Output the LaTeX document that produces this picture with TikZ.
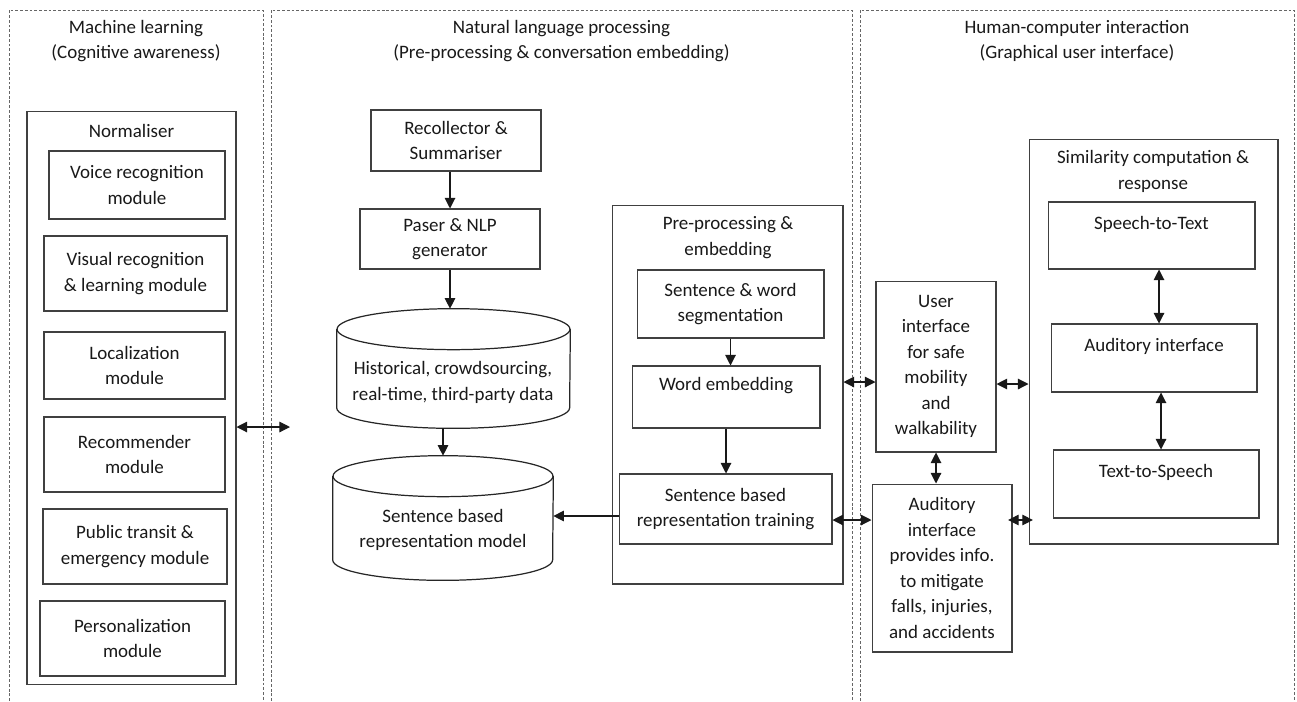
\documentclass[tikz,border=0pt]{standalone}
\usepackage{fontspec}
\setmainfont{Carlito}
\usetikzlibrary{arrows.meta}

\begin{document}
\begin{tikzpicture}[
x=0.02cm, y=-0.02cm,
>={Triangle[length=6pt,width=6pt]},
font=\fontsize{10.8}{14.5}\selectfont,
panel/.style={draw=black!60, line width=0.5pt, dash pattern=on 1.6pt off 1.1pt},
plainbox/.style={rectangle, draw=black!75, line width=0.6pt, align=center, inner sep=1pt, text=black!90},
dbnode/.style={rectangle, inner sep=0pt, minimum height=2.4cm},
dbline/.style={draw=black!85, line width=0.7pt},
titletext/.style={align=center, inner sep=1pt, text=black!90},
link/.style={draw=black!90, line width=0.6pt},
shortlink/.style={draw=black!90, line width=0.6pt, <->, shorten <=-2.5pt, shorten >=-2.5pt},
]
\useasboundingbox (0,0) rectangle (1297,701);

%Frames
\draw[panel] (9,701) -- (9,10) -- (263,10) -- (263,701);
\draw[panel] (271,701) -- (271,10) -- (852,10) -- (852,701);
\draw[panel] (860,701) -- (860,10) -- (1294,10) -- (1294,701);

%Titles
\node[titletext] (mltitle)  at (136,41)   {Machine learning\\(Cognitive awareness)};
\node[titletext] (nlptitle) at (561.5,41) {Natural language processing\\(Pre-processing \& conversation embedding)};
\node[titletext] (hcititle) at (1077,41)  {Human-computer interaction\\(Graphical user interface)};

%Nodes machine learning
\node[plainbox, minimum width=4.18cm, minimum height=11.48cm] (norm) at (131.5,398) {};
\node[titletext] (normtitle) at (131.5,131) {Normaliser};
\node[plainbox, minimum width=3.52cm, minimum height=1.36cm] (voice)   at (137,185)   {Voice recognition\\module};
\node[plainbox, minimum width=3.66cm, minimum height=1.50cm] (visual)  at (135.5,273.5) {Visual recognition\\\& learning module};
\node[plainbox, minimum width=3.62cm, minimum height=1.34cm] (local)   at (134.5,365.5) {Localization\\module};
\node[plainbox, minimum width=3.62cm, minimum height=1.50cm] (recom)   at (134.5,454.5) {Recommender\\module};
\node[plainbox, minimum width=3.68cm, minimum height=1.50cm] (transit) at (135,546.5) {Public transit \&\\emergency module};
\node[plainbox, minimum width=3.70cm, minimum height=1.50cm] (person)  at (132.5,638.5) {Personalization\\module};
\coordinate (mlport) at (290,427);

%Nodes language processing
\node[plainbox, minimum width=3.40cm, minimum height=1.22cm] (recol) at (456,140.5) {Recollector \&\\Summariser};
\node[plainbox, minimum width=3.60cm, minimum height=1.20cm] (paser) at (450,239) {Paser \& NLP\\generator};
\node[dbnode, minimum width=4.66cm, minimum height=2.38cm] (hist)  at (453.5,368.5) {};
\node[titletext] (histtext) at (453,382.5) {Historical, crowdsourcing,\\real-time, third-party data};
\node[dbnode, minimum width=4.40cm, minimum height=2.48cm] (model) at (443,518) {};
\node[titletext] (modeltext) at (443,530) {Sentence based\\representation model};
\node[plainbox, minimum width=4.62cm, minimum height=7.58cm] (prep) at (727.5,394.5) {};
\node[titletext] (preptitle) at (728,237.5) {Pre-processing \&\\embedding};
\node[plainbox, minimum width=3.74cm, minimum height=1.36cm] (seg)   at (730.5,304) {Sentence \& word\\segmentation};
\node[plainbox, minimum width=3.76cm, minimum height=1.24cm] (wemb)  at (726,397) {Word embedding\\~};
\node[plainbox, minimum width=4.26cm, minimum height=1.40cm] (train) at (725.5,509) {Sentence based\\representation training};

%Nodes interaction
\node[plainbox, minimum width=2.40cm, minimum height=3.42cm] (ui)  at (936,366.5) {User\\interface\\for safe\\mobility\\and\\walkability};
\node[plainbox, minimum width=2.80cm, minimum height=3.36cm] (aud) at (942,568) {Auditory\\interface\\provides info.\\to mitigate\\falls, injuries,\\and accidents};
\node[plainbox, minimum width=4.98cm, minimum height=8.10cm] (sim) at (1153.5,341.5) {};
\node[titletext] (simtitle) at (1153,171.5) {Similarity computation \&\\response};
\node[plainbox, minimum width=4.14cm, minimum height=1.34cm] (stt)  at (1151.5,235.5) {Speech-to-Text\\~};
\node[plainbox, minimum width=4.12cm, minimum height=1.36cm] (audi) at (1154,358) {Auditory interface\\~};
\node[plainbox, minimum width=4.12cm, minimum height=1.36cm] (tts)  at (1156,484) {Text-to-Speech\\~};

%Cylinders
\draw[dbline] ([yshift=-0.41cm]hist.north west) -- ([yshift=0.41cm]hist.south west)
  arc[start angle=180, end angle=360, x radius=2.33cm, y radius=0.41cm]
  -- ([yshift=-0.41cm]hist.north east);
\draw[dbline] ([yshift=-0.41cm]hist.north) ellipse[x radius=2.33cm, y radius=0.41cm];
\draw[dbline] ([yshift=-0.41cm]model.north west) -- ([yshift=0.41cm]model.south west)
  arc[start angle=180, end angle=360, x radius=2.20cm, y radius=0.41cm]
  -- ([yshift=-0.41cm]model.north east);
\draw[dbline] ([yshift=-0.41cm]model.north) ellipse[x radius=2.20cm, y radius=0.41cm];

%Lines
\draw[link, <->] (norm.east |- mlport) -- (mlport);
\draw[link, ->] (recol.south -| paser.north) -- (paser.north);
\draw[link, ->] (paser.south) -- (paser.south |- hist.north);
\draw[link, ->] (model.north |- hist.south) -- (model.north);
\draw[link, ->] (seg.south) -- (seg.south |- wemb.north);
\draw[link, ->] (wemb.south) -- (wemb.south |- train.north);
\draw[link, ->] (train.west |- 0,516) -- (model.east |- 0,516);
\draw[link, <->] (prep.east |- 0,382) -- (ui.west |- 0,382);
\draw[link, <->] (train.east |- 0,520) -- (aud.west |- 0,520);
\draw[link, <->] (ui.south) -- (ui.south |- aud.north);
\draw[link, <->] (ui.east |- 0,384) -- (sim.west |- 0,384);
\draw[shortlink] (aud.east |- 0,520) -- (sim.west |- 0,520);
\draw[link, <->] (stt.south -| 1159,0) -- (audi.north -| 1159,0);
\draw[link, <->] (audi.south -| 1161,0) -- (tts.north -| 1161,0);
\end{tikzpicture}
\end{document}
